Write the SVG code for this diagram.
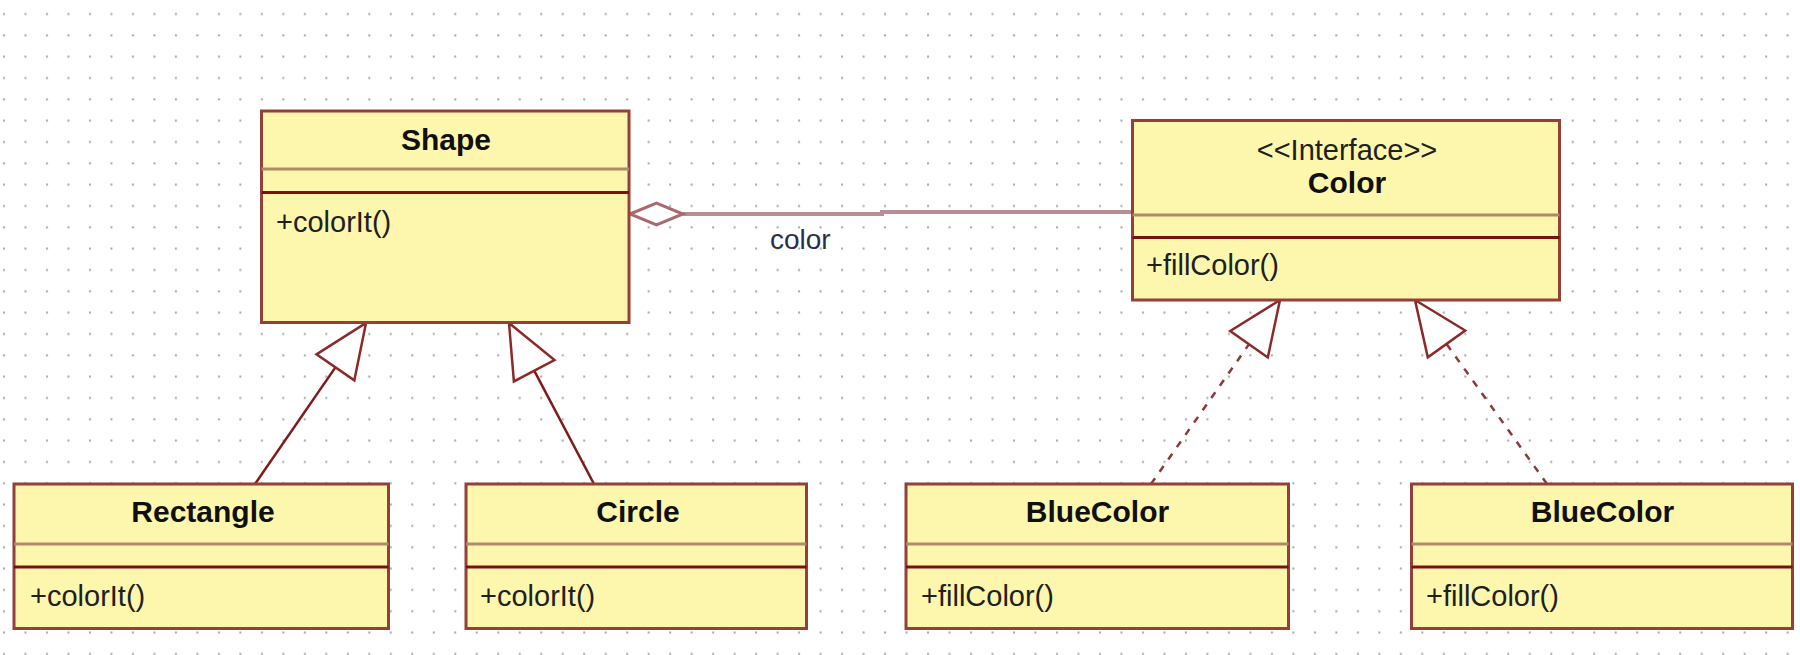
<svg xmlns="http://www.w3.org/2000/svg" width="1800" height="655" viewBox="0 0 1800 655">
<style>
.box{fill:#fdf7ad;stroke:#93403a;stroke-width:3}
.d1{stroke:#b08a68;stroke-width:3}
.d2{stroke:#7a1010;stroke-width:3}
.title{font-family:"Liberation Sans",Arial,sans-serif;font-weight:bold;font-size:30px;fill:#101010;text-anchor:middle}
.op{font-family:"Liberation Sans",Arial,sans-serif;font-size:29px;fill:#202020}
.stereo{font-family:"Liberation Sans",Arial,sans-serif;font-size:29px;fill:#202020;text-anchor:middle}
.gen{stroke:#7e1a1a;stroke-width:2.5;fill:none}
.real{stroke:#8b3a3a;stroke-width:2.5;fill:none;stroke-dasharray:7 8}
.head{fill:#ffffff;stroke:#8b2a2a;stroke-width:2.5;stroke-linejoin:miter}
.assoc{stroke:#b98e92;stroke-width:4;fill:none}
.lbl{font-family:"Liberation Sans",Arial,sans-serif;font-size:28px;fill:#283048}
</style>
<defs>
<pattern id="grid" x="0" y="0" width="21.49" height="21.33" patternUnits="userSpaceOnUse">
<rect x="3" y="13" width="2" height="2" fill="#a4a4a4"/>
</pattern>
</defs>
<rect width="1800" height="655" fill="#ffffff"/>
<rect width="1800" height="655" fill="url(#grid)"/>

<g id="connectors">
<line class="gen" x1="255" y1="484" x2="335.4" y2="367.4"/>
<polygon class="head" points="366,323 354.3,380.4 316.5,354.4"/>
<line class="gen" x1="594" y1="484" x2="534.2" y2="370.7"/>
<polygon class="head" points="509,323 554.5,360 513.9,381.4"/>
<line class="real" x1="1151" y1="484" x2="1249" y2="344.2"/>
<polygon class="head" points="1280,300 1267.8,357.4 1230.2,331"/>
<line class="real" x1="1547" y1="484" x2="1446.5" y2="343.9"/>
<polygon class="head" points="1415,300 1465.2,330.5 1427.8,357.3"/>
<path class="assoc" d="M683,214 H882 V212 H1133"/>
<polygon points="630,214 656.5,203 683,214 656.5,225" fill="#ffffff" stroke="#a86a6e" stroke-width="3"/>
<text class="lbl" x="770" y="249">color</text>
</g>

<g id="shape">
<rect class="box" x="261.5" y="111" width="367.5" height="211.5"/>
<line class="d1" x1="261.5" y1="169" x2="629" y2="169"/>
<line class="d2" x1="261.5" y1="192.5" x2="629" y2="192.5"/>
<text class="title" x="446" y="150">Shape</text>
<text class="op" x="276" y="232">+colorIt()</text>
</g>

<g id="color">
<rect class="box" x="1132.5" y="120.5" width="427" height="179.5"/>
<line class="d1" x1="1132.5" y1="215" x2="1559.5" y2="215"/>
<line class="d2" x1="1132.5" y1="237.5" x2="1559.5" y2="237.5"/>
<text class="stereo" x="1347" y="160">&lt;&lt;Interface&gt;&gt;</text>
<text class="title" x="1347" y="193">Color</text>
<text class="op" x="1146" y="275">+fillColor()</text>
</g>

<g id="rectangle">
<rect class="box" x="14" y="484" width="374.5" height="144.5"/>
<line class="d1" x1="14" y1="544" x2="388.5" y2="544"/>
<line class="d2" x1="14" y1="567" x2="388.5" y2="567"/>
<text class="title" x="203" y="522">Rectangle</text>
<text class="op" x="30" y="606">+colorIt()</text>
</g>

<g id="circle">
<rect class="box" x="466" y="484" width="340.5" height="144.5"/>
<line class="d1" x1="466" y1="544" x2="806.5" y2="544"/>
<line class="d2" x1="466" y1="567" x2="806.5" y2="567"/>
<text class="title" x="638" y="522">Circle</text>
<text class="op" x="480" y="606">+colorIt()</text>
</g>

<g id="bluecolor1">
<rect class="box" x="906" y="484" width="382.5" height="144.5"/>
<line class="d1" x1="906" y1="544" x2="1288.5" y2="544"/>
<line class="d2" x1="906" y1="567" x2="1288.5" y2="567"/>
<text class="title" x="1097.5" y="522">BlueColor</text>
<text class="op" x="921" y="606">+fillColor()</text>
</g>

<g id="bluecolor2">
<rect class="box" x="1411.5" y="484" width="381" height="144.5"/>
<line class="d1" x1="1411.5" y1="544" x2="1792.5" y2="544"/>
<line class="d2" x1="1411.5" y1="567" x2="1792.5" y2="567"/>
<text class="title" x="1602.5" y="522">BlueColor</text>
<text class="op" x="1426" y="606">+fillColor()</text>
</g>
</svg>
